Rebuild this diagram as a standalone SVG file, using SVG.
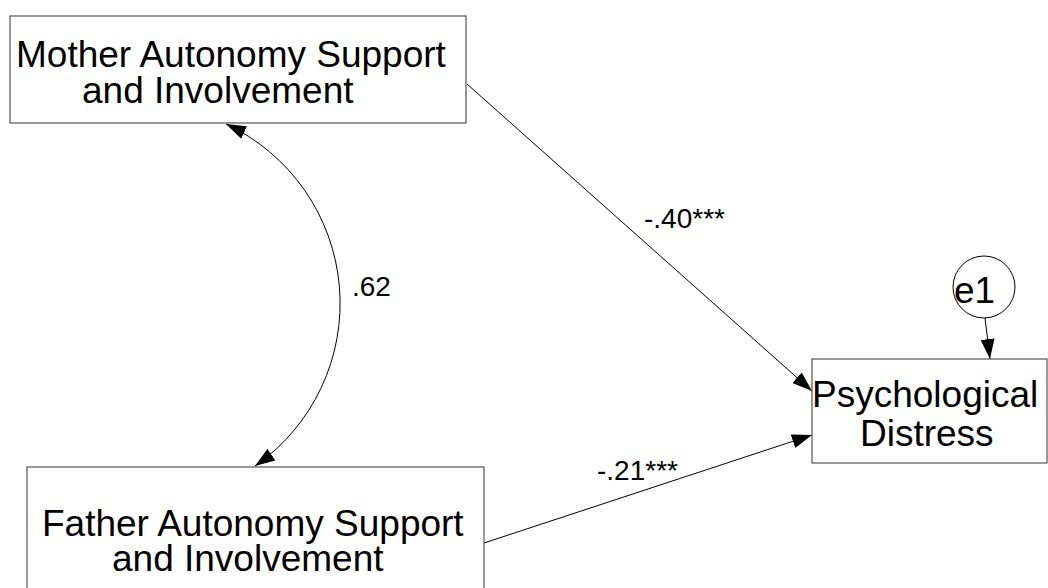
<svg xmlns="http://www.w3.org/2000/svg" width="1048" height="588" viewBox="0 0 1048 588">
<style>
.box{fill:#fff;stroke:#555;stroke-width:1.2}
.t{font-family:"Liberation Sans",Arial,sans-serif;font-size:37px;fill:#000}
.l{font-family:"Liberation Sans",Arial,sans-serif;font-size:28px;fill:#000}
.c{fill:none;stroke:#000;stroke-width:1}
</style>
<defs>
<marker id="ah" viewBox="0 0 20 14" refX="20" refY="7" markerWidth="20" markerHeight="14" markerUnits="userSpaceOnUse" orient="auto-start-reverse">
<path d="M0,0 L20,7 L0,14 z" fill="#000"/>
</marker>
</defs>
<rect width="1048" height="588" fill="#fff"/>
<g id="connectors">
<path class="c" d="M226,124 A198,198 0 0 1 255,466" marker-start="url(#ah)" marker-end="url(#ah)"/>
<line class="c" x1="467" y1="84" x2="812" y2="391" marker-end="url(#ah)"/>
<line class="c" x1="484" y1="543" x2="812" y2="435" marker-end="url(#ah)"/>
<line class="c" x1="985" y1="318" x2="990" y2="359" marker-end="url(#ah)"/>
<text class="l" x="644" y="228">-.40***</text>
<text class="l" x="597" y="480">-.21***</text>
<text class="l" x="352" y="296">.62</text>
</g>
<g id="mother">
<rect class="box" x="10" y="16" width="456" height="107"/>
<text class="t"><tspan x="16" y="67">Mother Autonomy Support</tspan><tspan x="82" y="103">and Involvement</tspan></text>
</g>
<g id="father">
<rect class="box" x="27" y="467" width="457" height="140"/>
<text class="t"><tspan x="42" y="536">Father Autonomy Support</tspan><tspan x="112" y="571">and Involvement</tspan></text>
</g>
<g id="psych">
<rect class="box" x="812" y="359" width="235" height="104"/>
<text class="t"><tspan x="812" y="407">Psychological</tspan><tspan x="860" y="446">Distress</tspan></text>
</g>
<g id="e1">
<circle cx="984" cy="287" r="31" fill="none" stroke="#000" stroke-width="1"/>
<text class="t" x="954" y="303">e1</text>
</g>
</svg>
